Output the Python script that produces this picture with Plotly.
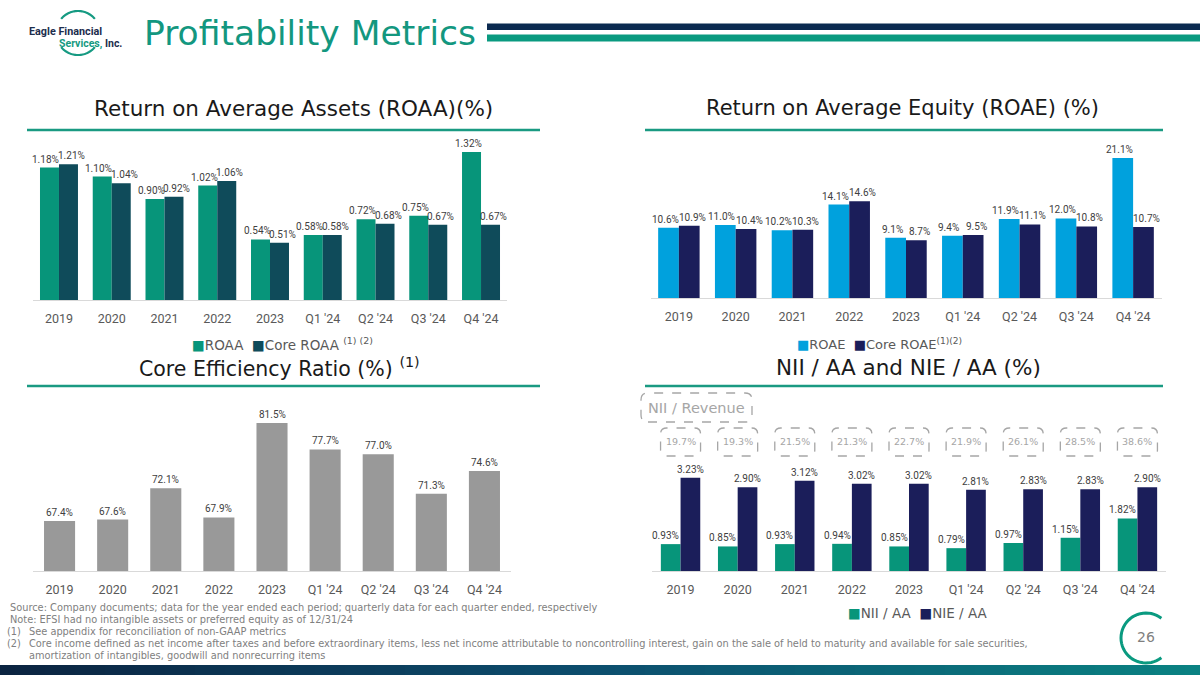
import math
import plotly.graph_objects as go

W, H = 1200, 675
FONT = "DejaVu Sans"
NUMFONT = "Roboto"

# ---------------- data ----------------
periods = ["2019", "2020", "2021", "2022", "2023", "Q1 '24", "Q2 '24", "Q3 '24", "Q4 '24"]
roaa = [1.18, 1.10, 0.90, 1.02, 0.54, 0.58, 0.72, 0.75, 1.32]
core_roaa = [1.21, 1.04, 0.92, 1.06, 0.51, 0.58, 0.68, 0.67, 0.67]
roae = [10.6, 11.0, 10.2, 14.1, 9.1, 9.4, 11.9, 12.0, 21.1]
core_roae = [10.9, 10.4, 10.3, 14.6, 8.7, 9.5, 11.1, 10.8, 10.7]
core_efficiency = [67.4, 67.6, 72.1, 67.9, 81.5, 77.7, 77.0, 71.3, 74.6]
nii_aa = [0.93, 0.85, 0.93, 0.94, 0.85, 0.79, 0.97, 1.15, 1.82]
nie_aa = [3.23, 2.90, 3.12, 3.02, 3.02, 2.81, 2.83, 2.83, 2.90]
nii_revenue = [19.7, 19.3, 21.5, 21.3, 22.7, 21.9, 26.1, 28.5, 38.6]

# ---------------- colours ----------------
TEAL = "#07957a"
DARK_TEAL = "#0f4b5a"
BLUE = "#00a1dd"
NAVY = "#1b1e5a"
GRAY_BAR = "#999999"
LABEL = "#404040"
TICK = "#595959"
LIGHT = "#a6a6a6"


def px(x):
    return x / W


def py(y):
    return 1 - y / H


idx = list(range(len(periods)))
fig = go.Figure()
ann = []
shapes = []


def bar(vals, color, name, n, width, offset, fmt, xshift=0, clip=False):
    sfx = "" if n == 1 else str(n)
    fig.add_trace(go.Bar(
        x=idx, y=vals, name=name, width=width, offset=offset,
        marker=dict(color=color, line=dict(width=0)),
        cliponaxis=clip,
        xaxis="x" + sfx, yaxis="y" + sfx, showlegend=False,
        hovertemplate="%{y}<extra>" + name + "</extra>",
    ))
    # value labels placed at each bar's top through the subplot's axes
    for i, v in zip(idx, vals):
        ann.append(dict(
            x=i + offset + width / 2, y=v, xref="x" + sfx, yref="y" + sfx,
            text=fmt.format(v), showarrow=False, xanchor="center", yanchor="bottom",
            xshift=xshift, yshift=1, font=dict(size=10, color=LABEL, family=NUMFONT),
        ))


bw1 = 0.36
bar(roaa, TEAL, "ROAA", 1, bw1, -bw1, "{:.2f}%", xshift=-3.5)
bar(core_roaa, DARK_TEAL, "Core ROAA", 1, bw1, 0, "{:.2f}%", xshift=3)
bw2 = 0.365
bar(roae, BLUE, "ROAE", 2, bw2, -bw2, "{:.1f}%", xshift=-3.5)
bar(core_roae, NAVY, "Core ROAE", 2, bw2, 0, "{:.1f}%", xshift=3)
bw3 = 0.585
bar(core_efficiency, GRAY_BAR, "Core Efficiency Ratio", 3, bw3, -bw3 / 2, "{:.1f}%", clip=True)
bw4 = 0.345
bar(nii_aa, TEAL, "NII / AA", 4, bw4, -bw4, "{:.2f}%", xshift=-5)
bar(nie_aa, NAVY, "NIE / AA", 4, bw4, 0, "{:.2f}%")

layout = dict(
    width=W, height=H, margin=dict(l=0, r=0, t=0, b=0),
    paper_bgcolor="white", plot_bgcolor="white",
    barmode="overlay", showlegend=False,
    font=dict(family=FONT, color=TICK),
)


def axes(n, x0, x1, ybase, ytop, yrange):
    sfx = "" if n == 1 else str(n)
    layout["xaxis" + sfx] = dict(
        domain=[px(x0), px(x1)], range=[-0.5, len(periods) - 0.5],
        tickvals=idx, ticktext=periods, showgrid=False, zeroline=False,
        showline=True, linecolor="#d9d9d9", linewidth=1.3, ticks="",
        ticklabelstandoff=7, tickfont=dict(size=12.5, color=TICK, family=NUMFONT),
        anchor="y" + sfx, fixedrange=True,
    )
    layout["yaxis" + sfx] = dict(
        domain=[py(ybase), py(ytop)], range=yrange, visible=False,
        anchor="x" + sfx, fixedrange=True,
    )


axes(1, 32.6, 507.4, 300, 135, [0, (300 - 135) / 112.2])
axes(2, 650.5, 1161.5, 298, 135, [0, (298 - 135) / 6.63])
axes(3, 33, 511, 571, 395, [60.2, 60.2 + (571 - 395) / 6.95])
axes(4, 652, 1166, 571, 395, [0, (571 - 395) / 28.9])

fig.update_layout(**layout)


def text(x, y, s, size, color=TICK, xanchor="center", bold=False, family=FONT):
    ann.append(dict(
        x=px(x), y=py(y), xref="paper", yref="paper", text=("<b>" + s + "</b>") if bold else s,
        showarrow=False, xanchor=xanchor, yanchor="middle",
        font=dict(size=size, color=color, family=family),
    ))


def rect(x0, y0, x1, y1, color):
    shapes.append(dict(type="rect", xref="paper", yref="paper",
                       x0=px(x0), x1=px(x1), y0=py(y1), y1=py(y0),
                       fillcolor=color, line=dict(width=0), layer="above"))


def rrect_path(x0, y0, x1, y1, r):
    return (f"M{x0 + r},{y0} L{x1 - r},{y0} Q{x1},{y0} {x1},{y0 + r} "
            f"L{x1},{y1 - r} Q{x1},{y1} {x1 - r},{y1} L{x0 + r},{y1} "
            f"Q{x0},{y1} {x0},{y1 - r} L{x0},{y0 + r} Q{x0},{y0} {x0 + r},{y0} Z")


def arc_path(r, a0, a1, n=40):
    pts = []
    for k in range(n + 1):
        a = math.radians(a0 + (a1 - a0) * k / n)
        pts.append((r * math.cos(a), r * math.sin(a)))
    return "M" + " L".join(f"{x:.2f},{y:.2f}" for x, y in pts)


# ---------------- header ----------------
text(142, 33, "Profitability Metrics", 34.5, color="#13977f", xanchor="left")
rect(487, 23.5, 1200, 30, "#0b2a50")
rect(487, 34.5, 1200, 41.5, "#0a9a80")
# logo
shapes.append(dict(type="path", xref="paper", yref="paper", xsizemode="pixel", ysizemode="pixel",
                   xanchor=px(78), yanchor=py(33),
                   path=arc_path(22, 40, 140) + " " + arc_path(22, 220, 320),
                   line=dict(color="#169a82", width=2.2)))
text(27, 31.5, "Eagle Financial", 10.8, color="#1c2d4d", xanchor="left", bold=True, family="Roboto")
ann.append(dict(x=px(57), y=py(43.5), xref="paper", yref="paper", showarrow=False,
                xanchor="left", yanchor="middle",
                text="<b><span style='color:#169a82'>Services,</span> <span style='color:#1c2d4d'>Inc.</span></b>",
                font=dict(size=10.5, family="Roboto")))

# ---------------- section titles ----------------
text(293, 108, "Return on Average Assets (ROAA)(%)", 21.5, color="#1a1a1a")
text(902, 108, "Return on Average Equity (ROAE) (%)", 21, color="#1a1a1a")
text(279, 367, "Core Efficiency Ratio (%) <sup>(1)</sup>", 20.5, color="#1a1a1a")
text(908, 367, "NII / AA and NIE / AA (%)", 21.5, color="#1a1a1a")
for (x0, x1, y) in [(27, 540, 130), (645, 1163, 130), (27, 540, 386), (645, 1163, 386)]:
    rect(x0, y - 1.2, x1, y + 1.2, "#1a9a82")

# ---------------- legends ----------------
sq = "<span style='color:{c}'>■</span>"
text(282, 344, sq.format(c=TEAL) + "ROAA  " + sq.format(c=DARK_TEAL) + "Core ROAA <sup>(1) (2)</sup>", 13.5)
text(880, 344, sq.format(c=BLUE) + "ROAE  " + sq.format(c=NAVY) + "Core ROAE<sup>(1)(2)</sup>", 13)
text(918, 613, sq.format(c=TEAL) + "NII / AA  " + sq.format(c=NAVY) + "NIE / AA", 13.5)

# ---------------- NII / Revenue boxes ----------------
shapes.append(dict(type="path", xref="paper", yref="paper", xsizemode="pixel", ysizemode="pixel",
                   xanchor=px(696.5), yanchor=py(407.5), path=rrect_path(-55.5, -14.5, 55.5, 14.5, 7),
                   line=dict(color=LIGHT, width=1.3, dash="dash")))
text(696.5, 408, "NII / Revenue", 14.5, color=LIGHT)
box_y = (571 - 442) / 28.9
for i, v in enumerate(nii_revenue):
    shapes.append(dict(type="path", xref="x4", yref="y4", xsizemode="pixel", ysizemode="pixel",
                       xanchor=i, yanchor=box_y, path=rrect_path(-20, -14, 20, 14, 6),
                       line=dict(color=LIGHT, width=1.3, dash="dash")))
    ann.append(dict(x=i, y=box_y, xref="x4", yref="y4", text=f"{v:.1f}%", showarrow=False,
                    font=dict(size=9.5, color=LIGHT, family=FONT)))

# ---------------- footer ----------------
FOOT = "#808080"
fs = 9.8
text(8, 607, "Source: Company documents; data for the year ended each period; quarterly data for each quarter ended, respectively", fs, FOOT, "left")
text(8, 619, "Note: EFSI had no intangible assets or preferred equity as of 12/31/24", fs, FOOT, "left")
text(5, 631, "(1)", fs, FOOT, "left")
text(27, 631, "See appendix for reconciliation of non-GAAP metrics", fs, FOOT, "left")
text(5, 643, "(2)", fs, FOOT, "left")
text(27, 643, "Core income defined as net income after taxes and before extraordinary items, less net income attributable to noncontrolling interest, gain on the sale of held to maturity and available for sale securities,", fs, FOOT, "left")
text(27, 655, "amortization of intangibles, goodwill and nonrecurring items", fs, FOOT, "left")

# page number
shapes.append(dict(type="path", xref="paper", yref="paper", xsizemode="pixel", ysizemode="pixel",
                   xanchor=px(1146), yanchor=py(638), path=arc_path(25, 52, 308),
                   line=dict(color="#0a9a80", width=3)))
text(1146, 637, "26", 14, "#7f7f7f")

# bottom gradient band
stops = [(0.0, (11, 35, 64)), (0.5, (12, 78, 110)), (1.0, (10, 130, 130))]


def lerp_col(t):
    for (t0, c0), (t1, c1) in zip(stops[:-1], stops[1:]):
        if t0 <= t <= t1:
            f = (t - t0) / (t1 - t0)
            return "rgb(%d,%d,%d)" % tuple(round(a + (b - a) * f) for a, b in zip(c0, c1))
    return "rgb(%d,%d,%d)" % stops[-1][1]


N = 80
for k in range(N):
    x0 = W * k / N
    x1 = W * (k + 1) / N + 0.6
    rect(x0, 665, x1, 675, lerp_col((k + 0.5) / N))

fig.update_layout(shapes=shapes, annotations=ann)
fig.write_html("out.html", config={"displayModeBar": False},
               post_script="document.body.style.margin='0px';document.body.style.overflow='hidden';")
